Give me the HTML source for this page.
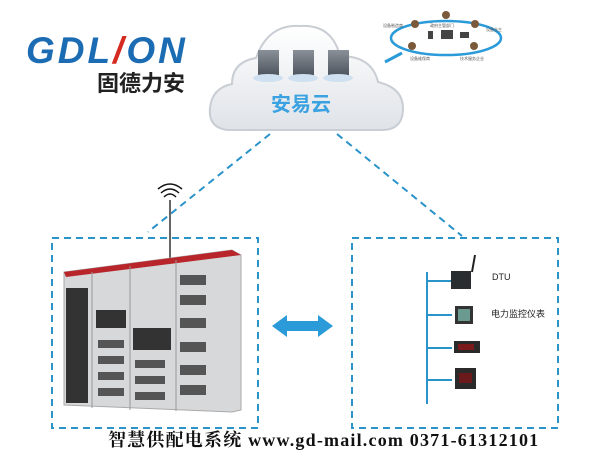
<!DOCTYPE html>
<html><head><meta charset="utf-8"><style>
body{margin:0;width:600px;height:467px;background:#fff;overflow:hidden;position:relative;font-family:"Liberation Sans","Noto Sans CJK SC",sans-serif}
.a{position:absolute}
</style></head><body>
<svg class="a" style="left:0;top:0" width="600" height="467">
<defs>
<linearGradient id="cg" x1="0" y1="0" x2="0" y2="1"><stop offset="0" stop-color="#ffffff"/><stop offset="1" stop-color="#dfe3e8"/></linearGradient>
<linearGradient id="sv" x1="0" y1="0" x2="0" y2="1"><stop offset="0" stop-color="#8a9098"/><stop offset="1" stop-color="#4c535c"/></linearGradient>
</defs>
<path d="M228,130 Q208,128 210,108 Q212,88 232,84 Q232,62 256,58 Q268,24 300,26 Q332,24 340,56 Q372,56 378,82 Q404,88 403,110 Q402,130 382,130 Z" fill="url(#cg)" stroke="#c9ced4" stroke-width="2"/>
<g fill="url(#sv)">
<rect x="258" y="50" width="21" height="26"/><rect x="293" y="50" width="21" height="26"/><rect x="328" y="50" width="21" height="26"/>
</g>
<g fill="#cfe0f0"><ellipse cx="268" cy="78" rx="15" ry="4"/><ellipse cx="303" cy="78" rx="15" ry="4"/><ellipse cx="338" cy="78" rx="15" ry="4"/></g>
<ellipse cx="446" cy="38" rx="55" ry="17" fill="none" stroke="#2a9ad8" stroke-width="2.5"/>
<line x1="385" y1="62" x2="402" y2="53" stroke="#2a9ad8" stroke-width="3"/>
<g fill="#7a5a3a"><circle cx="415" cy="24" r="4"/><circle cx="446" cy="15" r="4"/><circle cx="475" cy="24" r="4"/><circle cx="412" cy="46" r="4"/><circle cx="474" cy="46" r="4"/></g>
<g fill="#444"><rect x="428" y="31" width="5" height="8"/><rect x="441" y="30" width="12" height="9"/><rect x="460" y="32" width="9" height="6"/></g>
<g font-size="4" fill="#555"><text x="383" y="27">设备制造商</text><text x="430" y="27">政府主管部门</text><text x="486" y="31">设备业主</text><text x="410" y="60">设备维保商</text><text x="460" y="60">技术服务企业</text></g>
<g stroke="#2a93c9" stroke-width="2" stroke-dasharray="7,5" fill="none">
<line x1="270" y1="134" x2="148" y2="232"/>
<line x1="337" y1="134" x2="462" y2="236"/>
<rect x="52" y="238" width="206" height="190"/>
<rect x="352" y="238" width="206" height="190"/>
</g>
<line x1="170" y1="200" x2="170" y2="258" stroke="#666" stroke-width="2"/>
<g fill="none" stroke="#111" stroke-width="1.5"><path d="M164,197 Q170,191 176,197"/><path d="M161,193 Q170,185 179,193"/><path d="M158,189 Q170,179 182,189"/></g>
<path d="M64,272 L232,250 L241,255 L241,410 L232,412 L64,405 Z" fill="#d6d8da" stroke="#aaa"/>
<path d="M64,272 L232,250 L241,255 L66,277 Z" fill="#b8262b"/>
<line x1="92" y1="272" x2="92" y2="408" stroke="#999"/><line x1="130" y1="266" x2="130" y2="410" stroke="#999"/><line x1="176" y1="260" x2="176" y2="411" stroke="#999"/>
<g fill="#333"><rect x="66" y="288" width="22" height="115"/><rect x="96" y="310" width="30" height="18"/><rect x="133" y="328" width="38" height="22"/></g>
<g fill="#555"><rect x="180" y="275" width="26" height="10"/><rect x="180" y="295" width="26" height="10"/><rect x="180" y="318" width="26" height="10"/><rect x="180" y="342" width="26" height="10"/><rect x="180" y="365" width="26" height="10"/><rect x="180" y="385" width="26" height="10"/>
<rect x="98" y="340" width="26" height="8"/><rect x="98" y="356" width="26" height="8"/><rect x="98" y="372" width="26" height="8"/><rect x="98" y="388" width="26" height="8"/>
<rect x="135" y="360" width="30" height="8"/><rect x="135" y="376" width="30" height="8"/><rect x="135" y="392" width="30" height="8"/></g>
<path d="M272,326 L287,315 L287,321 L318,321 L318,315 L333,326 L318,337 L318,331 L287,331 L287,337 Z" fill="#2a9ad8"/>
<g stroke="#2a93c9" stroke-width="2"><line x1="427" y1="272" x2="427" y2="404"/><line x1="427" y1="281" x2="452" y2="281"/><line x1="427" y1="315" x2="452" y2="315"/><line x1="427" y1="348" x2="452" y2="348"/><line x1="427" y1="380" x2="452" y2="380"/></g>
<rect x="451" y="271" width="20" height="18" fill="#2a2d30"/><line x1="472" y1="272" x2="475" y2="255" stroke="#222" stroke-width="2"/>
<rect x="455" y="306" width="18" height="18" fill="#333"/><rect x="458" y="309" width="12" height="12" fill="#6a9a90"/>
<rect x="454" y="341" width="26" height="12" fill="#2a2a2a"/><rect x="458" y="344" width="16" height="6" fill="#7a1a1a"/>
<rect x="455" y="368" width="21" height="21" fill="#2a2a2a"/><rect x="459" y="373" width="13" height="10" fill="#6a1a1a"/>
</svg>
<div class="a" style="left:492px;top:272px;font-size:9px;color:#222">DTU</div>
<div class="a" style="left:491px;top:307px;font-size:9px;color:#222">电力监控仪表</div>
<div class="a" style="left:271px;top:88px;font-size:20px;font-weight:bold;color:#3aa2e0">安易云</div>
<div class="a" style="left:26px;top:30px;font-size:37px;font-weight:bold;font-style:italic;color:#1b6cb3;letter-spacing:3px;line-height:42px">GDL<span style="color:#d52a20">/</span>ON</div>
<div class="a" style="left:97px;top:71px;font-size:22px;font-weight:bold;color:#222;line-height:26px">固德力安</div>
<div class="a" style="left:108px;top:426px;font-size:18px;font-weight:bold;color:#111;font-family:'Liberation Serif','Noto Serif CJK SC',serif;white-space:nowrap;letter-spacing:1.2px">智慧供配电系统 www.gd-mail.com 0371-61312101</div>
</body></html>
